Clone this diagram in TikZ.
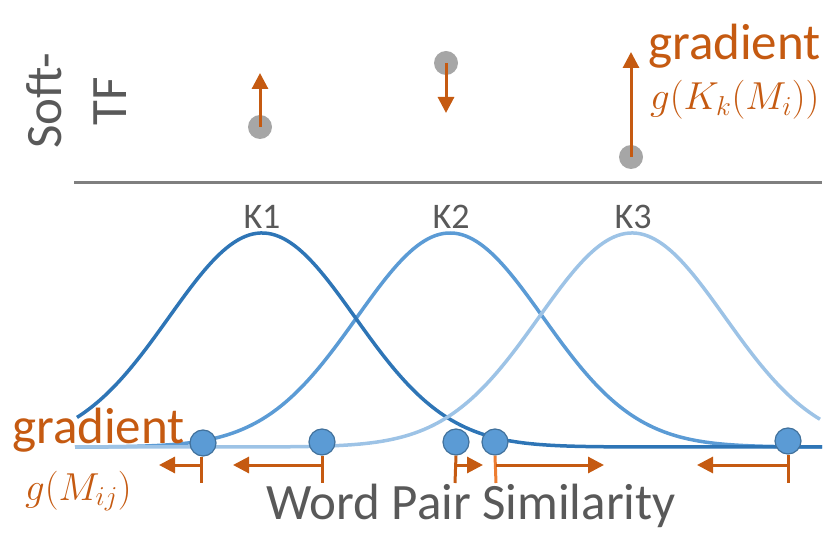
\RequirePackage{fix-cm}
\documentclass[tikz,border=0pt]{standalone}
\usepackage{fontspec}
\setmainfont{Carlito}
\usetikzlibrary{arrows.meta}
\definecolor{orng}{HTML}{C55A11}
\definecolor{lorng}{HTML}{ED7D31}
\definecolor{txtgray}{HTML}{595959}
\definecolor{dotgray}{HTML}{A6A6A6}
\definecolor{linegray}{HTML}{7F7F7F}
\definecolor{kdark}{HTML}{2E75B6}
\definecolor{kmid}{HTML}{5B9BD5}
\definecolor{klight}{HTML}{9DC3E6}
\definecolor{dotedge}{HTML}{41719C}
\begin{document}
\begin{tikzpicture}[x=1pt,y=-1pt,
  big/.style={font=\fontsize{51}{65}\selectfont, inner sep=0pt},
  mathlab/.style={text=orng, anchor=base west, inner sep=0pt, font=\fontsize{39}{44}\selectfont},
  klabel/.style={font=\fontsize{36}{40}\selectfont, text=txtgray, inner sep=0pt, anchor=base},
  tfdot/.style={circle, fill=dotgray, minimum size=24pt, inner sep=0pt},
  simdot/.style={circle, fill=kmid, draw=dotedge, line width=1.2pt, minimum size=26pt, inner sep=0pt},
  grad/.style={draw=orng, line width=3pt, -{Triangle[length=16pt,width=16pt]}},
  tick/.style={draw=orng, line width=3pt},
  curve/.style={line width=3.5pt, line join=round}
]
\useasboundingbox (0,0) rectangle (830,534);
% separator
\draw[linegray, line width=3pt] (74,183) -- (822,183);
% Soft-TF label
\node[big, text=txtgray, rotate=90, align=center] (softtf) at (77,101) {Soft-\\TF};
% TF dots and gradients
\node[tfdot] (t1) at (260,127) {};
\node[tfdot] (t2) at (446,63) {};
\node[tfdot] (t3) at (631,157) {};
\coordinate (t1e) at (260,73);
\coordinate (t2e) at (446,113);
\coordinate (t3e) at (631,52);
\draw[grad] (t1.center) -- (t1e);
\draw[grad] (t2.center) -- (t2e);
\draw[grad] (t3.center) -- (t3e);
\node[big, text=orng, anchor=base west] (gtop) at (648,60) {gradient};
\node[mathlab] (gK) at (650,110) {$g(K_k(M_i))$};
% kernels
\draw[curve, kmid] plot[domain=75:822, samples=200] (\x, {447-214*exp(-0.5*((\x-450)/93)^2)});
\draw[curve, kdark] plot[domain=77:822, samples=200] (\x, {447-214*exp(-0.5*((\x-262)/93)^2)});
\draw[curve, klight] plot[domain=75:820, samples=200] (\x, {447-214*exp(-0.5*((\x-632)/93)^2)});
\node[klabel] (k1) at (262,229) {K1};
\node[klabel] (k2) at (451,229) {K2};
\node[klabel] (k3) at (633,229) {K3};
% similarity dots
\node[big, text=orng, anchor=base west] (gbot) at (12,443) {gradient};
\node[simdot] (s1) at (203,443) {};
\node[simdot] (s2) at (322,442) {};
\node[simdot] (s3) at (456,442) {};
\node[simdot] (s4) at (495,442) {};
\node[simdot] (s5) at (788,441) {};
\coordinate (s1b) at (201,483); \coordinate (s1m) at (201,465); \coordinate (s1e) at (159,465);
\coordinate (s2b) at (322,483); \coordinate (s2m) at (322,465); \coordinate (s2e) at (233,465);
\coordinate (s3b) at (455,483); \coordinate (s3m) at (455,465); \coordinate (s3e) at (483,465);
\coordinate (s4b) at (496,483); \coordinate (s4m) at (496,465); \coordinate (s4e) at (604,465);
\coordinate (s5b) at (788,483); \coordinate (s5m) at (788,465); \coordinate (s5e) at (697,465);
\draw[tick] (s1.south) ++(-2pt,0) -- (s1b);
\draw[tick] (s2.south) -- (s2b);
\draw[tick] (s3.south) -- (s3b);
\draw[tick, draw=lorng] (s4.south) -- (s4b);
\draw[tick] (s5.south) -- (s5b);
\draw[grad] (s1m) -- (s1e);
\draw[grad] (s2m) -- (s2e);
\draw[grad] (s3m) -- (s3e);
\draw[grad] (s4m) -- (s4e);
\draw[grad] (s5m) -- (s5e);
\node[mathlab] (gM) at (25,500) {$g(M_{ij})$};
\node[big, text=txtgray, anchor=base] (xlab) at (471,519) {Word Pair Similarity};
\end{tikzpicture}
\end{document}
